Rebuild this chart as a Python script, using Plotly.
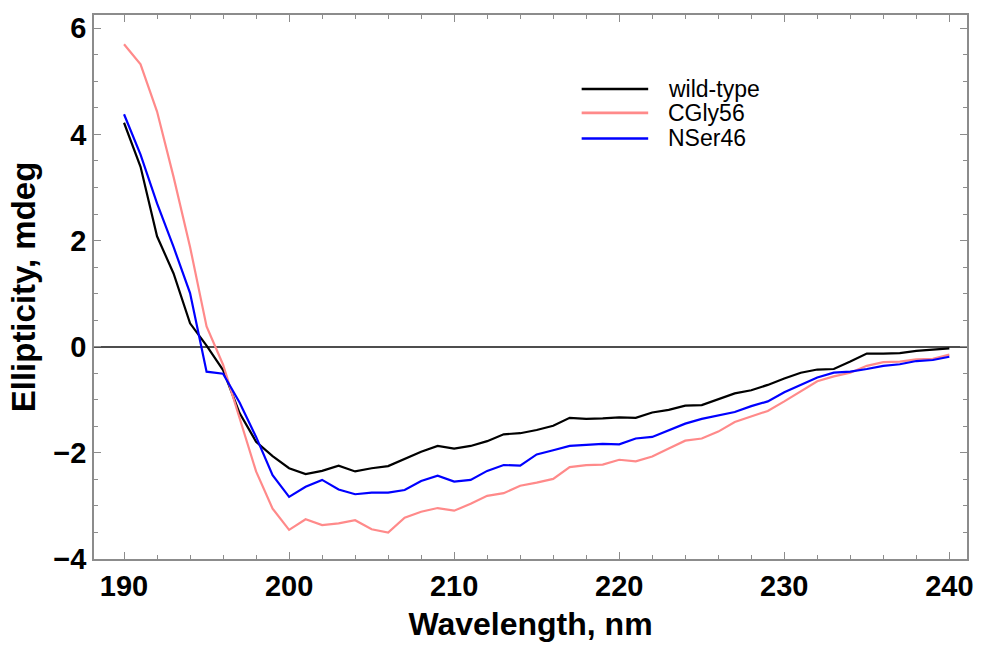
import plotly.graph_objects as go

# Circular dichroism spectra, 190-240 nm at 1 nm steps
wavelength = list(range(190, 241))

wild_type = [
    4.22, 3.39, 2.08, 1.38, 0.44, 0.02, -0.44, -1.25, -1.79, -2.06,
    -2.29, -2.40, -2.34, -2.24, -2.35, -2.29, -2.25, -2.12, -1.98, -1.87,
    -1.92, -1.87, -1.78, -1.65, -1.63, -1.57, -1.49, -1.34, -1.36, -1.35,
    -1.33, -1.34, -1.24, -1.19, -1.11, -1.10, -0.99, -0.88, -0.82, -0.72,
    -0.60, -0.49, -0.43, -0.42, -0.28, -0.13, -0.13, -0.12, -0.08, -0.05,
    -0.03,
]

cgly56 = [
    5.70, 5.32, 4.43, 3.20, 1.88, 0.38, -0.34, -1.35, -2.35, -3.05,
    -3.45, -3.25, -3.36, -3.33, -3.27, -3.44, -3.50, -3.22, -3.11, -3.04,
    -3.09, -2.96, -2.81, -2.76, -2.62, -2.56, -2.49, -2.27, -2.23, -2.22,
    -2.13, -2.16, -2.07, -1.92, -1.77, -1.73, -1.60, -1.42, -1.31, -1.21,
    -1.03, -0.84, -0.65, -0.56, -0.49, -0.36, -0.29, -0.28, -0.24, -0.23,
    -0.15,
]

nser46 = [
    4.38, 3.62, 2.70, 1.88, 1.01, -0.47, -0.51, -1.05, -1.70, -2.42,
    -2.83, -2.64, -2.51, -2.69, -2.78, -2.75, -2.75, -2.70, -2.53, -2.43,
    -2.54, -2.51, -2.34, -2.23, -2.24, -2.03, -1.95, -1.87, -1.85, -1.83,
    -1.84, -1.73, -1.70, -1.58, -1.45, -1.36, -1.30, -1.23, -1.12, -1.03,
    -0.86, -0.72, -0.58, -0.49, -0.47, -0.42, -0.36, -0.33, -0.27, -0.25,
    -0.19,
]

series_names = ["wild-type", "CGly56", "NSer46"]
series_values = [wild_type, cgly56, nser46]
series_colors = ["#000000", "#FF8A8A", "#0000FF"]

x_ticks = [190, 200, 210, 220, 230, 240]
y_ticks = [-4, -2, 0, 2, 4, 6]

FONT = "Liberation Sans, Arial, sans-serif"
FRAME = "#8c8c8c"

fig = go.Figure()
for name, vals, color in zip(series_names, series_values, series_colors):
    fig.add_trace(go.Scatter(
        x=wavelength, y=vals, mode="lines", name=name,
        line=dict(color=color, width=2.2), showlegend=False,
    ))

# Hand-built legend: long line samples with labels to their right
leg_x0, leg_x1, leg_tx = 0.5586, 0.6348, 0.655
leg_rows = [0.864, 0.820, 0.773]
for name, color, yr in zip(series_names, series_colors, leg_rows):
    fig.add_shape(type="line", xref="paper", yref="paper",
                  x0=leg_x0, x1=leg_x1, y0=yr, y1=yr,
                  line=dict(color=color, width=2.6))
    fig.add_annotation(xref="paper", yref="paper", x=leg_tx, y=yr,
                       text=name, showarrow=False, xanchor="left",
                       yanchor="middle",
                       font=dict(family=FONT, size=23, color="#000000"))

axis_common = dict(
    showline=True, linecolor=FRAME, linewidth=1.5, mirror="allticks",
    ticks="inside", ticklen=7, tickwidth=1.3, tickcolor=FRAME,
    showgrid=False,
    tickfont=dict(family=FONT, size=29, color="#000000", weight="bold"),
)

fig.update_xaxes(
    range=[188.18, 241.07], tickvals=x_ticks,
    minor=dict(dtick=2, tick0=190, ticks="inside", ticklen=4,
               tickcolor=FRAME, tickwidth=1.1),
    zeroline=False,
    title=dict(text="Wavelength, nm", standoff=12,
               font=dict(family=FONT, size=32, color="#000000",
                         weight="bold")),
    **axis_common,
)
fig.update_yaxes(
    range=[-4, 6.25], tickvals=y_ticks,
    minor=dict(dtick=0.5, tick0=0, ticks="inside", ticklen=4,
               tickcolor=FRAME, tickwidth=1.1),
    zeroline=True, zerolinecolor="#4d4d4d", zerolinewidth=1.6,
    title=dict(text="Ellipticity, mdeg", standoff=8,
               font=dict(family=FONT, size=33, color="#000000",
                         weight="bold")),
    **axis_common,
)

fig.update_layout(
    width=982, height=646,
    margin=dict(l=94, r=9, t=15, b=87),
    paper_bgcolor="#ffffff", plot_bgcolor="#ffffff",
    showlegend=False,
)

fig.write_html("out.html")
